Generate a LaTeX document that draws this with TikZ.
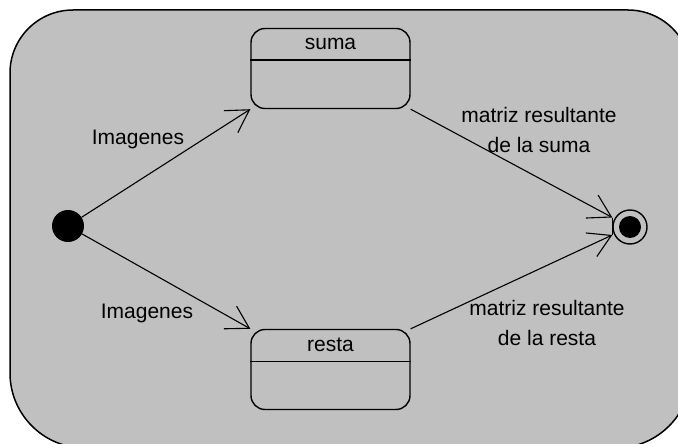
\documentclass[tikz,border=0pt]{standalone}
\usepackage{fontspec}
\setmainfont{Liberation Sans}
\usetikzlibrary{arrows.meta, positioning}
\definecolor{bggray}{RGB}{192,192,192}

\begin{document}
\begin{tikzpicture}[x=1pt, y=-1pt, font=\fontsize{21}{30}\selectfont,
  statebox/.style={draw, line width=1.4pt, rounded corners=14pt,
    minimum width=159pt, minimum height=80pt, inner sep=0pt},
  statename/.style={inner sep=0pt, minimum width=159pt, minimum height=32pt},
  trans/.style={line width=1.1pt, -{Straight Barb[length=22pt, width=26pt]}},
]

% background
\useasboundingbox (0,0) rectangle (678,444);
\fill[white] (0,0) rectangle (678,444);
\begin{scope}
\clip (0,0) rectangle (678,444);
\draw[line width=1.5pt, fill=bggray] (10,73)
  arc[start angle=180, end angle=270, radius=63] -- (628,10)
  arc[start angle=270, end angle=360, radius=63] -- (691,373)
  arc[start angle=0, end angle=90, radius=75] -- (85,448)
  arc[start angle=90, end angle=180, radius=75] -- cycle;
\end{scope}

% pseudo states
\node[fill=black, circle, inner sep=0pt, minimum size=32pt] (init) at (68,226) {};
\node[draw, circle, line width=1.4pt, inner sep=0pt, minimum size=34pt] (final) at (630,227) {};
\node[fill=black, circle, inner sep=0pt, minimum size=22pt] (finaldot) at (final) {};

% states
\node[statebox] (suma) at (330.5,68.5) {};
\node[statename, below=0pt of suma.north] (sumaname) {suma};
\draw[line width=1.4pt] (suma.west |- sumaname.south) -- (suma.east |- sumaname.south);

\node[statebox] (resta) at (330.5,369.5) {};
\node[statename, below=0pt of resta.north] (restaname) {resta};
\draw[line width=1.4pt] (resta.west |- restaname.south) -- (resta.east |- restaname.south);

% transitions
\draw[trans] (init) -- (suma.south west);
\draw[trans] (init) -- (resta.north west);
\draw[trans] (suma.south east) -- ([yshift=9.5pt]final.west);
\draw[trans] (resta.north east) -- ([yshift=-8pt]final.west);
\draw[line width=1.1pt] ([yshift=9.5pt]final.west) -- ([yshift=-8pt]final.west);

% labels
\node (imgsuma) at (138,139) {Imagenes};
\node (imgresta) at (147,313) {Imagenes};
\node[align=center] (outsuma) at (539,130) {matriz resultante\\de la suma};
\node[align=center] (outresta) at (547,323) {matriz resultante\\de la resta};

\end{tikzpicture}
\end{document}
